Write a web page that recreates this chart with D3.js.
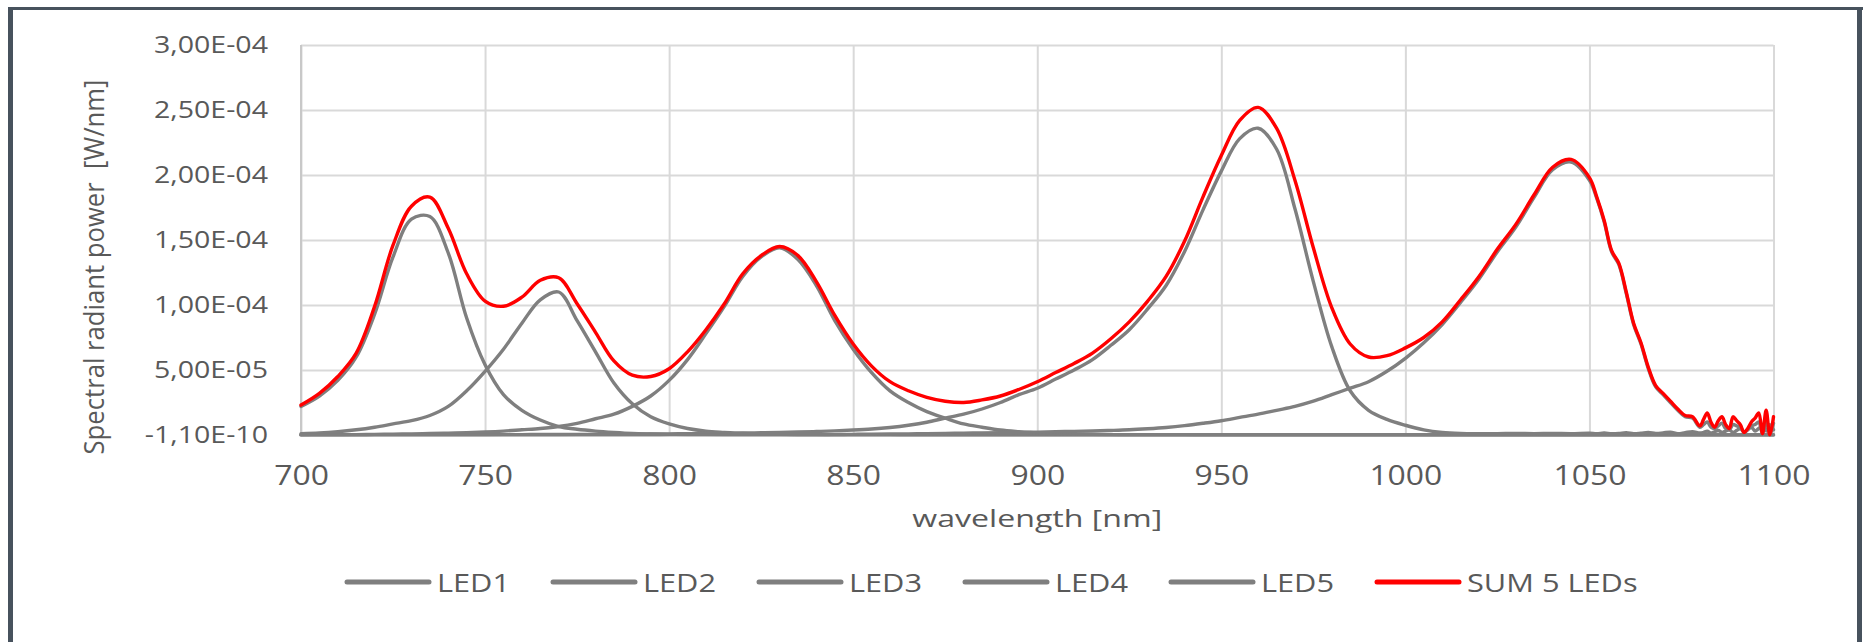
<!DOCTYPE html>
<html>
<head>
<meta charset="utf-8">
<script src="https://cdn.jsdelivr.net/npm/d3@7/dist/d3.min.js"></script>
<style>
  body { margin: 0; background: #ffffff; }
  svg { display: block; }
  text { font-family: "Open Sans", "Noto Sans", sans-serif; fill: #595959; }
</style>
</head>
<body>
<svg id="chart" width="1866" height="642"></svg>
<script>
// ---------- DATA (spectral radiant power in units of 1e-5 W/nm) ----------
const wavelength = [
  700,705,710,715,720,725,730,735,740,745,750,755,760,765,770,775,780,785,790,795,
  800,805,810,815,820,825,830,835,840,845,850,855,860,865,870,875,880,885,890,895,
  900,905,910,915,920,925,930,935,940,945,950,955,960,965,970,975,980,985,990,995,
  1000,1005,1010,1015,1020,1025,1030,1035,1040,1045,1050,
  1052,1054,1056,1058,1060,1062,1064,1066,1068,1070,1072,1074,1076,1078,1080,
  1081,1082,1083,1084,1085,1086,1087,1088,1089,1090,1091,1092,1093,1094,1095,1096,1097,1098,1099,1100
];

const led1 = [
  2.2,3.0,4.2,6.0,9.3,13.7,16.6,16.8,14.0,9.0,5.4,3.1,1.9,1.15,0.65,0.44,0.3,0.2,0.12,0.08,
  0.05,0.04,0.03,0.02,0.02,0.01,0.01,0,0,0,0,0,0,0,0,0,0,0,0,0,
  0,0,0,0,0,0,0,0,0,0,0,0,0,0,0,0,0,0,0,0,
  0,0,0,0,0,0,0,0,0,0,0,
  0,0,0,0,0,0,0,0,0,0,0,0,0,0,0,
  0,0,0,0,0,0,0,0,0,0,0,0,0,0,0,0,0,0,0,0
];

const led2 = [
  0.1,0.15,0.25,0.4,0.6,0.85,1.1,1.5,2.2,3.4,4.9,6.6,8.6,10.4,11.0,8.8,6.4,4.0,2.4,1.4,
  0.85,0.5,0.3,0.2,0.12,0.08,0.05,0.04,0.03,0.02,0.02,0.01,0.01,0,0,0,0,0,0,0,
  0,0,0,0,0,0,0,0,0,0,0,0,0,0,0,0,0,0,0,0,
  0,0,0,0,0,0,0,0,0,0,0,
  0,0,0,0,0,0,0,0,0,0,0,0,0,0,0,
  0,0,0,0,0,0,0,0,0,0,0,0,0,0,0,0,0,0,0,0
];

const led3 = [
  0,0.01,0.02,0.03,0.05,0.07,0.09,0.11,0.14,0.18,0.23,0.3,0.4,0.5,0.65,0.9,1.25,1.6,2.2,3.0,
  4.2,5.8,7.8,9.9,12.2,13.7,14.4,13.5,11.5,8.8,6.6,4.8,3.4,2.5,1.8,1.3,0.85,0.6,0.38,0.25,
  0.15,0.1,0.07,0.05,0.03,0.02,0.02,0.01,0.01,0,0,0,0,0,0,0,0,0,0,0,
  0,0,0,0,0,0,0,0,0,0,0,
  0,0,0,0,0,0,0,0,0,0,0,0,0,0,0,
  0,0,0,0,0,0,0,0,0,0,0,0,0,0,0,0,0,0,0,0
];

const led4 = [
  0,0,0,0,0.01,0.01,0.01,0.01,0.02,0.02,0.02,0.03,0.03,0.04,0.04,0.05,0.05,0.06,0.07,0.08,
  0.09,0.1,0.11,0.13,0.15,0.17,0.2,0.23,0.27,0.32,0.38,0.46,0.58,0.75,0.98,1.3,1.6,2.0,2.5,3.1,
  3.6,4.3,5.0,5.8,6.9,8.1,9.7,11.5,14.1,17.3,20.3,22.8,23.6,22.0,17.4,11.8,6.8,3.4,1.9,1.2,
  0.75,0.4,0.2,0.12,0.1,0.1,0.12,0.1,0.12,0.1,0.13,
  0.1,0.15,0.1,0.12,0.18,0.1,0.14,0.2,0.12,0.16,0.22,0.1,0.18,0.25,0.15,
  0.2,0.3,0.15,0.25,0.35,0.2,0.3,0.4,0.2,0.35,0.5,0.25,0.4,0.6,0.3,0.5,0.7,0.3,0.8,0.4
];

const led5 = [
  0,0,0,0,0,0,0,0,0,0,0,0,0,0,0,0,0,0,0,0,
  0.01,0.01,0.01,0.01,0.02,0.02,0.02,0.02,0.02,0.03,0.05,0.06,0.08,0.09,0.1,0.12,0.14,0.16,0.18,0.2,
  0.22,0.25,0.28,0.31,0.35,0.4,0.48,0.58,0.72,0.9,1.1,1.35,1.6,1.9,2.2,2.6,3.1,3.6,4.1,4.9,
  5.9,7.1,8.5,10.2,12.0,14.1,16.0,18.3,20.4,21.0,19.6,
  18.2,16.4,14.1,13.1,10.9,8.5,7.0,5.1,3.7,3.1,2.5,1.9,1.4,1.3,0.6,
  0.8,1.0,0.6,0.5,0.7,0.9,0.5,0.4,0.8,0.7,0.6,0.2,0.4,0.7,0.8,1.0,0.1,1.1,0.0,0.9
];

const sum5 = [
  2.3,3.2,4.5,6.3,9.9,14.6,17.6,18.3,15.9,12.4,10.3,9.9,10.6,11.9,12.1,10.1,7.9,5.7,4.6,4.5,
  5.1,6.4,8.1,10.1,12.4,13.8,14.5,13.8,11.8,9.2,7.0,5.3,4.1,3.4,2.9,2.6,2.5,2.7,3.0,3.5,
  4.1,4.8,5.5,6.3,7.4,8.7,10.3,12.2,14.9,18.3,21.5,24.2,25.2,23.6,19.6,14.4,9.8,7.0,6.0,6.1,
  6.7,7.5,8.7,10.4,12.2,14.3,16.2,18.5,20.6,21.2,19.8,
  18.3,16.5,14.2,13.2,11.0,8.6,7.1,5.2,3.8,3.2,2.6,2.0,1.5,1.4,0.7,
  1.2,1.7,1.0,0.6,1.1,1.4,0.8,0.5,1.4,1.1,0.8,0.2,0.5,1.0,1.3,1.7,0.1,1.9,0.0,1.4
];

const seriesNames  = ["LED1", "LED2", "LED3", "LED4", "LED5", "SUM 5 LEDs"];
const seriesValues = [led1, led2, led3, led4, led5, sum5];
const seriesColors = ["#7f7f7f", "#7f7f7f", "#7f7f7f", "#7f7f7f", "#7f7f7f", "#ff0000"];

const xTickValues = [700, 750, 800, 850, 900, 950, 1000, 1050, 1100];
const yTickValues = [-0.000011, 5, 10, 15, 20, 25, 30];
const yTickLabels = ["-1,10E-10", "5,00E-05", "1,00E-04", "1,50E-04", "2,00E-04", "2,50E-04", "3,00E-04"];

const xTitle = "wavelength [nm]";
const yTitle = "Spectral radiant power  [W/nm]";

// ---------- DRAWING ----------
const svg = d3.select("#chart");
const W = 1866, H = 642;
const plot = { left: 301, right: 1773.5, top: 45, bottom: 435 };

svg.append("rect").attr("width", W).attr("height", H).attr("fill", "#ffffff");

// outer frame
const frameColor = "#47525d";
svg.append("line").attr("x1", 8).attr("x2", 1863).attr("y1", 8.5).attr("y2", 8.5)
   .attr("stroke", frameColor).attr("stroke-width", 3);
svg.append("line").attr("x1", 10.5).attr("x2", 10.5).attr("y1", 7).attr("y2", H)
   .attr("stroke", frameColor).attr("stroke-width", 5);
svg.append("line").attr("x1", 1859.5).attr("x2", 1859.5).attr("y1", 7).attr("y2", H)
   .attr("stroke", frameColor).attr("stroke-width", 5);

const x = d3.scaleLinear().domain([700, 1100]).range([plot.left, plot.right]);
const y = d3.scaleLinear().domain([-0.000011, 30]).range([plot.bottom, plot.top]);

function stretchTo(sel, refText, refWidth) {
  let k = 1;
  sel.each(function () {
    if (d3.select(this).text() === refText) k = refWidth / this.getComputedTextLength();
  });
  sel.each(function () {
    const L = this.getComputedTextLength();
    d3.select(this).attr("textLength", L * k).attr("lengthAdjust", "spacingAndGlyphs");
  });
}

// Y axis + horizontal gridlines
const yAxis = svg.append("g")
  .attr("transform", `translate(${plot.left},0)`)
  .call(d3.axisLeft(y)
    .tickValues(yTickValues)
    .tickSize(-(plot.right - plot.left))
    .tickPadding(33)
    .tickFormat((d, i) => yTickLabels[i]));
yAxis.select(".domain").remove();
yAxis.selectAll(".tick line").attr("stroke", "#d9d9d9").attr("stroke-width", 2);
yAxis.selectAll(".tick text")
  .attr("font-size", 23).attr("fill", "#595959")
  .style("font-family", '"Open Sans", sans-serif');
stretchTo(yAxis.selectAll(".tick text"), "3,00E-04", 114);

// X axis + vertical gridlines
const xAxis = svg.append("g")
  .attr("transform", `translate(0,${plot.bottom})`)
  .call(d3.axisBottom(x)
    .tickValues(xTickValues)
    .tickSize(-(plot.bottom - plot.top))
    .tickFormat(d3.format("d")));
xAxis.select(".domain").remove();
xAxis.selectAll(".tick line").attr("stroke", "#d9d9d9").attr("stroke-width", 2);
xAxis.selectAll(".tick text")
  .attr("y", 50).attr("dy", 0)
  .attr("font-size", 28).attr("fill", "#595959")
  .style("font-family", '"Open Sans", sans-serif');
stretchTo(xAxis.selectAll(".tick text"), "1000", 73);

// left axis line (slightly darker)
svg.append("line")
  .attr("x1", plot.left).attr("x2", plot.left)
  .attr("y1", plot.top).attr("y2", plot.bottom)
  .attr("stroke", "#c8c8c8").attr("stroke-width", 2);

// clip so dips never fall below the baseline
svg.append("clipPath").attr("id", "plotclip")
  .append("rect")
  .attr("x", plot.left - 3).attr("y", plot.top - 5)
  .attr("width", plot.right - plot.left + 6).attr("height", plot.bottom - plot.top + 6.5);

// Series lines
const line = d3.line()
  .x((d, i) => x(wavelength[i]))
  .y(d => y(d))
  .curve(d3.curveCatmullRom.alpha(0.5));

svg.append("g").attr("clip-path", "url(#plotclip)")
  .selectAll("path")
  .data(seriesValues)
  .join("path")
  .attr("d", d => line(d))
  .attr("fill", "none")
  .attr("stroke", (d, i) => seriesColors[i])
  .attr("stroke-width", 3.4)
  .attr("stroke-linejoin", "round")
  .attr("stroke-linecap", "round");

// Axis titles
const xt = svg.append("text")
  .attr("x", (plot.left + plot.right) / 2).attr("y", 527)
  .attr("text-anchor", "middle")
  .attr("font-size", 24)
  .text(xTitle);
stretchTo(xt, xTitle, 250);

const yt = svg.append("text")
  .attr("transform", "translate(104,267) rotate(-90)")
  .attr("text-anchor", "middle")
  .attr("font-size", 27)
  .style("white-space", "pre")
  .text(yTitle);
stretchTo(yt, yTitle, 375);

// Legend
const legend = svg.append("g");
const items = legend.selectAll("g")
  .data(seriesNames)
  .join("g")
  .attr("transform", (d, i) => `translate(${347 + i * 206},582)`);
items.append("line")
  .attr("x1", 0).attr("x2", 82).attr("y1", 0).attr("y2", 0)
  .attr("stroke", (d, i) => seriesColors[i])
  .attr("stroke-width", 5)
  .attr("stroke-linecap", "round");
const ltexts = items.append("text")
  .attr("x", 90).attr("y", 9.5)
  .attr("font-size", 26)
  .text(d => d);
stretchTo(ltexts, "LED1", 73);
</script>
</body>
</html>
